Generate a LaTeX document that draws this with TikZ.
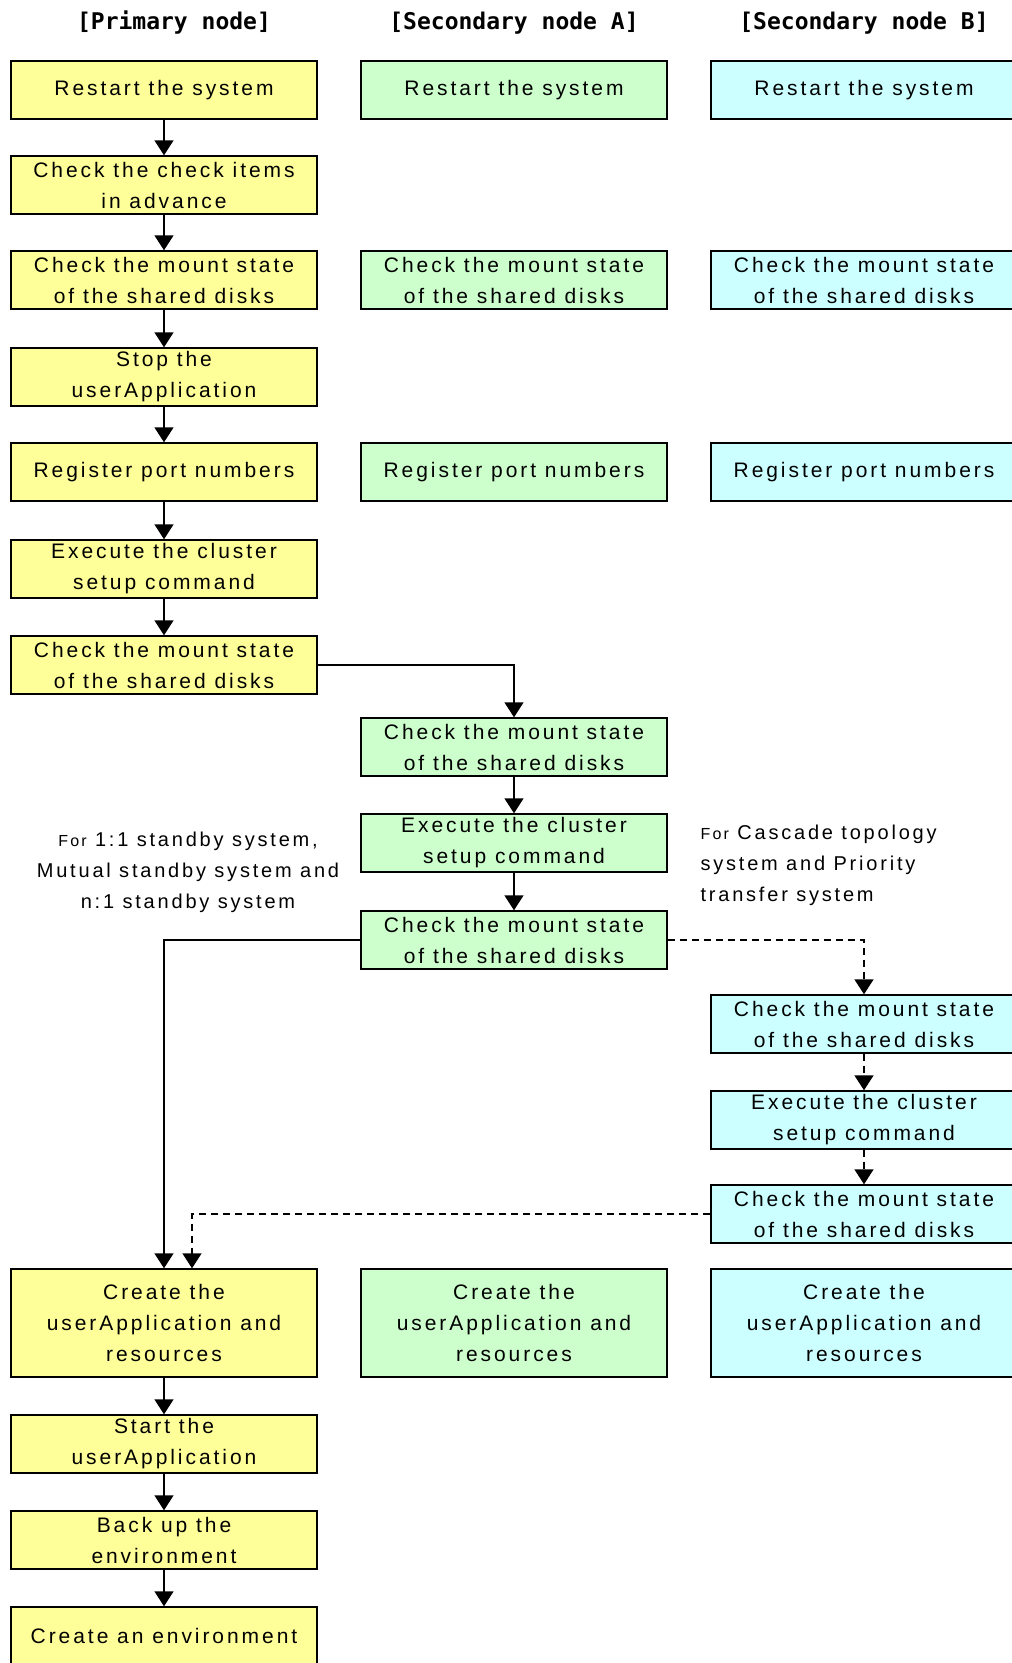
\documentclass[tikz,border=0pt]{standalone}
\usepackage{fontspec}
\setmainfont{Liberation Sans}
\setmonofont{DejaVu Sans Mono}
\newfontfamily\boxfont[LetterSpace=14]{Liberation Sans}
\usetikzlibrary{positioning,arrows.meta,calc}
\definecolor{priyellow}{HTML}{FFFF99}
\definecolor{secgreen}{HTML}{CCFFCC}
\definecolor{seccyan}{HTML}{CCFFFF}

\begin{document}
\begin{tikzpicture}[x=1pt, y=-1pt,
  stepbox/.style={draw, line width=1.4pt, minimum width=306pt, minimum height=58pt, inner sep=0pt, align=center, font=\boxfont\fontsize{21}{31}\selectfont},
  prim/.style={stepbox, fill=priyellow},
  seca/.style={stepbox, fill=secgreen},
  secb/.style={stepbox, fill=seccyan},
  flow/.style={line width=1.4pt, -{Triangle[width=19pt,length=15pt]}},
  heading/.style={font=\ttfamily\bfseries\fontsize{23}{27}\selectfont},
  note/.style={font=\boxfont\fontsize{20}{31}\selectfont}]
\useasboundingbox (0,0) rectangle (1012,1663);

\node[heading] (hprim) at (174,23) {[Primary node]};
\node[heading] (hseca) at (514,23) {[Secondary node A]};
\node[heading] (hsecb) at (864,23) {[Secondary node B]};

% primary node
\node[prim] (p1) at (164,90) {Restart the system};
\node[prim] (p2) at (164,185) {Check the check items\\in advance};
\node[prim] (p3) at (164,280) {Check the mount state\\of the shared disks};
\node[prim] (p4) at (164,377) {Stop the\\userApplication};
\node[prim] (p5) at (164,472) {Register port numbers};
\node[prim] (p6) at (164,569) {Execute the cluster\\setup command};
\node[prim] (p7) at (164,665) {Check the mount state\\of the shared disks};
\node[prim, minimum height=108pt] (p8) at (164,1323) {Create the\\userApplication and\\resources};
\node[prim] (p9) at (164,1444) {Start the\\userApplication};
\node[prim] (p10) at (164,1540) {Back up the\\environment};
\node[prim] (p11) at (164,1636) {Create an environment};

% secondary node A
\node[seca] (a1) at (514,90) {Restart the system};
\node[seca] (a3) at (514,280) {Check the mount state\\of the shared disks};
\node[seca] (a5) at (514,472) {Register port numbers};
\node[seca] (a7) at (514,747) {Check the mount state\\of the shared disks};
\node[seca] (a8) at (514,843) {Execute the cluster\\setup command};
\node[seca] (a9) at (514,940) {Check the mount state\\of the shared disks};
\node[seca, minimum height=108pt] (a10) at (514,1323) {Create the\\userApplication and\\resources};

% secondary node B
\node[secb] (b1) at (864,90) {Restart the system};
\node[secb] (b3) at (864,280) {Check the mount state\\of the shared disks};
\node[secb] (b5) at (864,472) {Register port numbers};
\node[secb] (b7) at (864,1024) {Check the mount state\\of the shared disks};
\node[secb] (b8) at (864,1120) {Execute the cluster\\setup command};
\node[secb] (b9) at (864,1214) {Check the mount state\\of the shared disks};
\node[secb, minimum height=108pt] (b10) at (864,1323) {Create the\\userApplication and\\resources};

\node[note, align=center] (n1) at (188,872) {{\fontsize{16}{31}\selectfont For} 1:1 standby system,\\Mutual standby system and\\n:1 standby system};
\node[note, align=left, anchor=west] (n2) at (697,865) {{\fontsize{16}{31}\selectfont For} Cascade topology\\system and Priority\\transfer system};

\draw[flow] (p1) -- (p2);
\draw[flow] (p2) -- (p3);
\draw[flow] (p3) -- (p4);
\draw[flow] (p4) -- (p5);
\draw[flow] (p5) -- (p6);
\draw[flow] (p6) -- (p7);
\draw[flow] (p7.east) -| (a7.north);
\draw[flow] (a7) -- (a8);
\draw[flow] (a8) -- (a9);
\draw[flow] (a9.west) -| (p8.north);
\draw[flow, dash pattern=on 7pt off 5pt] (a9.east) -| (b7.north);
\draw[flow, dash pattern=on 7pt off 5pt] (b7) -- (b8);
\draw[flow, dash pattern=on 7pt off 5pt] (b8) -- (b9);
\draw[flow, dash pattern=on 7pt off 5pt] (b9.west) -| ([xshift=28pt]p8.north);
\draw[flow] (p8) -- (p9);
\draw[flow] (p9) -- (p10);
\draw[flow] (p10) -- (p11);
\end{tikzpicture}
\end{document}
